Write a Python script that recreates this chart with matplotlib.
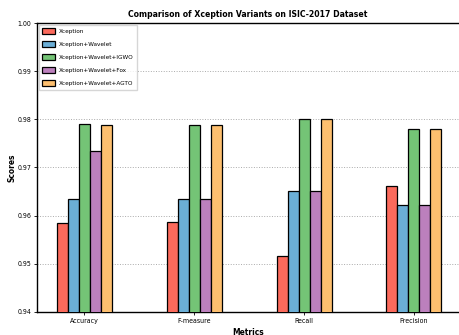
import numpy as np
import matplotlib
matplotlib.use('Agg')
import matplotlib.pyplot as plt

plt.rcParams['font.family'] = ['DejaVu Sans']
plt.rcParams['font.stretch'] = 'condensed'

metrics = ['Accuracy', 'F-measure', 'Recall', 'Precision']
models = ['Xception', 'Xception+Wavelet', 'Xception+Wavelet+IGWO',
          'Xception+Wavelet+Fox', 'Xception+Wavelet+AGTO']
scores = [
    [0.9585, 0.9587, 0.9516, 0.9661],  # Xception
    [0.9634, 0.9634, 0.9651, 0.9622],  # +Wavelet
    [0.9790, 0.9789, 0.9800, 0.9780],  # +IGWO
    [0.9734, 0.9634, 0.9651, 0.9622],  # +Fox
    [0.9788, 0.9789, 0.9800, 0.9780],  # +AGTO
]
colors = ['#fb6a5c', '#6baed6', '#74c476', '#bc80bd', '#fdbf6f']

fig = plt.figure(figsize=(4.59, 3.35), dpi=100)
ax = fig.add_axes([0.0806, 0.0687, 0.9194, 0.8626])

x = np.arange(len(metrics))
w = 0.1
for i, (name, vals) in enumerate(zip(models, scores)):
    ax.bar(x + (i - 2) * w, vals, w, color=colors[i], edgecolor='black',
           linewidth=0.9, label=name, zorder=3)

ax.set_ylim(0.94, 1.0)
ax.set_xlim(-0.43, 3.41)
ax.set_yticks(np.arange(0.94, 1.001, 0.01))
ax.set_yticklabels(['0.94', '0.95', '0.96', '0.97', '0.98', '0.99', '1.00'])
ax.set_xticks(x)
ax.set_xticklabels(metrics)
ax.tick_params(labelsize=5, length=2, width=0.6, pad=2)
ax.yaxis.grid(True, linestyle=':', color='#aaaaaa', linewidth=0.7, zorder=0)

ax.set_title('Comparison of Xception Variants on ISIC-2017 Dataset',
             fontsize=6.2, fontweight='bold', pad=4)
ax.set_xlabel('Metrics', fontsize=6, fontweight='bold', labelpad=3)
ax.set_ylabel('Scores', fontsize=6, fontweight='bold', labelpad=1)

ax.spines['right'].set_visible(False)
for s in ['left', 'top', 'bottom']:
    ax.spines[s].set_linewidth(1.0)

ax.legend(loc='upper left', fontsize=4.6, frameon=True, fancybox=False,
          edgecolor='#cccccc', handlelength=2.0, handleheight=1.0,
          borderpad=0.5, labelspacing=1.1, handletextpad=0.6,
          borderaxespad=0.3)

fig.savefig('out.png', dpi=100)
